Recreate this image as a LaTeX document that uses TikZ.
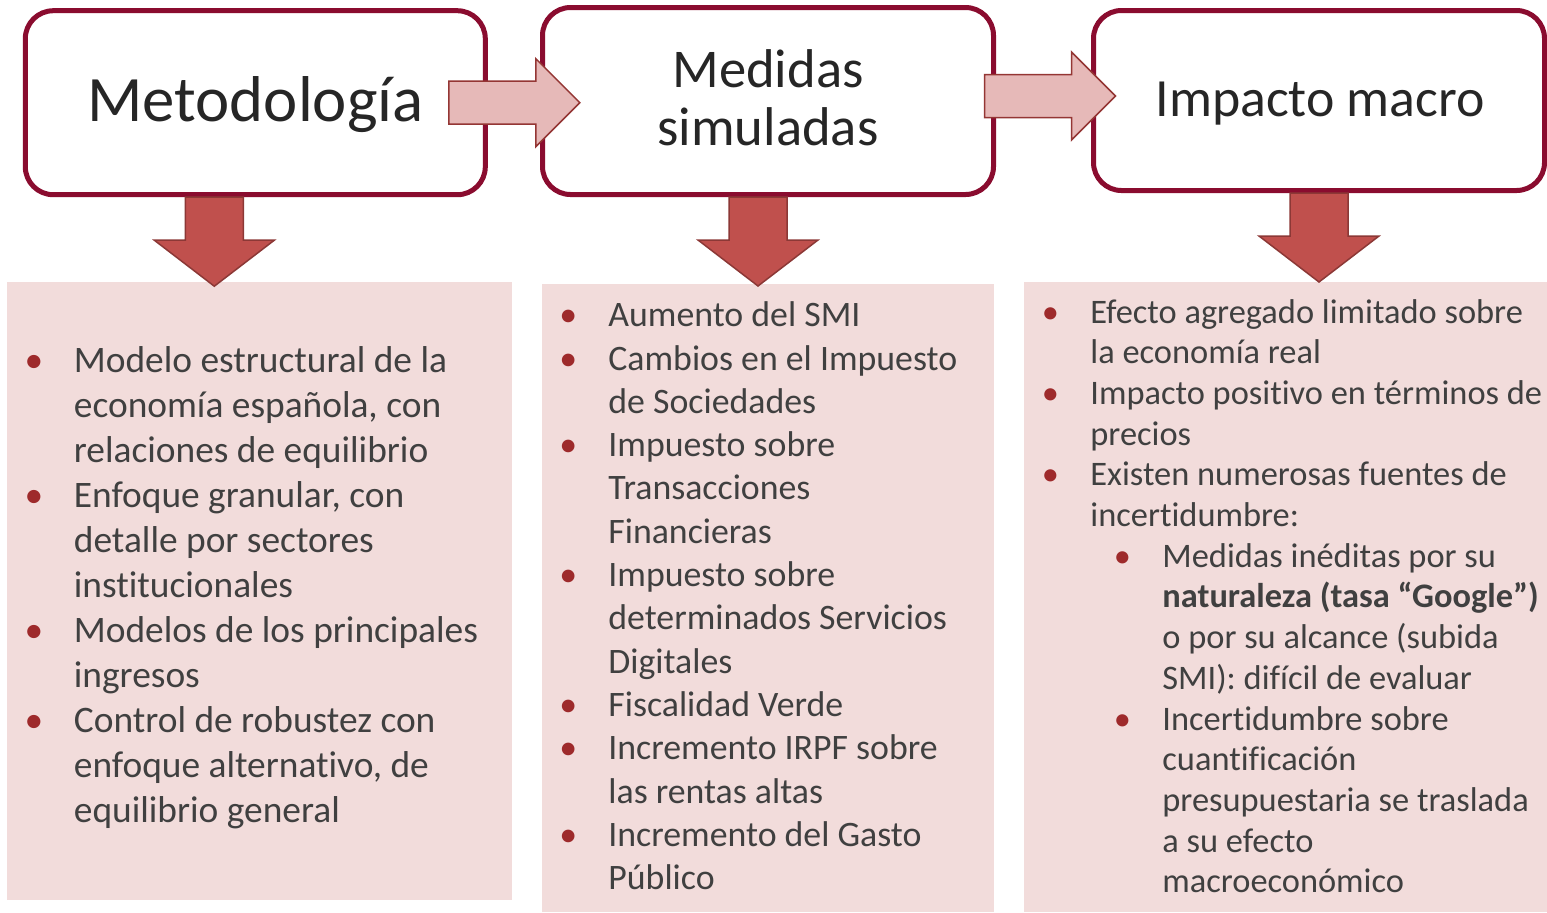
\documentclass[tikz,border=0pt]{standalone}
\usepackage{fontspec}
\setmainfont{Carlito}[Ligatures={NoCommon}]
\usepackage{xcolor}
\usetikzlibrary{calc,
	positioning}

\definecolor{boxred}{HTML}{8A0C2F}
\definecolor{pinkfill}{HTML}{E6B9B8}
\definecolor{pinkline}{HTML}{943634}
\definecolor{arrowfill}{HTML}{C0504D}
\definecolor{arrowline}{HTML}{8C3836}
\definecolor{panelpink}{HTML}{F2DCDB}
\definecolor{bulred}{HTML}{9E2A2B}
\definecolor{titlegray}{HTML}{262626}
\definecolor{textgray}{HTML}{404040}

\newlength\bw
\setlength\bw{20pt}
\newcommand\bul{\makebox[\bw][l]{\makebox[0pt]{\textcolor{bulred}{\textbullet}}}}
\newcommand\ind{\hspace*{\bw}}
\newcommand\subbul{\hspace*{36pt}\bul}
\newcommand\subind{\hspace*{56pt}}

\tikzset{
	titlebox/.style={draw=boxred, line width=2.5pt, rounded corners=14pt, fill=white, inner sep=0pt},
	titletxt/.style={text=titlegray, inner sep=0pt, anchor=base},
	listtxt/.style={text=textgray, inner sep=0pt, anchor=base west},
	panel/.style={fill=panelpink},
	downarr/.pic={
		\filldraw[fill=arrowfill, draw=arrowline, line width=0.75pt] (-29,0) -- (29,0) -- (29,43) -- (60,43) -- (0,89) -- (-60,43) -- (-29,43) -- cycle;
	},
	rightarr/.pic={
		\filldraw[fill=pinkfill, draw=pinkline, line width=0.75pt] (0,-21.5) -- (87,-21.5) -- (87,-44) -- (131,0) -- (87,44) -- (87,21.5) -- (0,21.5) -- cycle;
	}
}

\begin{document}
\begin{tikzpicture}[x=0.5pt, y=-0.5pt]
	\useasboundingbox (0,0) rectangle (1547,912);
	% panels below
	\fill[panel] (7,282) rectangle (512,900);
	\fill[panel] (542,284) rectangle (994,912);
	\fill[panel] (1024,282) rectangle (1547,912);

	% boxes
	\node[titlebox, minimum width=230pt, minimum height=92pt] (metod) at (255.3,102.7) {};
	\node[titlebox, minimum width=225.5pt, minimum height=93.5pt] (medid) at (768,101) {};
	\node[titlebox, minimum width=225.5pt, minimum height=90pt] (impac) at (1319,100.5) {};

	% arrows
	\pic at ($(metod.south)+(-41,0)$) {downarr};
	\pic at ($(medid.south)+(-10,0)$) {downarr};
	\pic at ($(impac.south)+(0,0)$) {downarr};
	\pic at ($(metod.east)+(-39,0)$) {rightarr};
	\pic at ($(medid.east)+(-11.5,-5)$) {rightarr};

	% titles
	\node[titletxt, font=\fontsize{32.4}{36}\selectfont] (metodT) at (255.5,121) {Metodología};
	\node[titletxt, font=\fontsize{27.3}{29}\selectfont] (medidT) at (768,87) {\begin{tabular}[t]{@{}c@{}}Medidas\\simuladas\end{tabular}};
	\node[titletxt, font=\fontsize{26.9}{30}\selectfont] (impacT) at (1320,116) {Impacto macro};

	% lists
	\node[listtxt, font=\fontsize{18.7}{22.5}\selectfont] (metodL) at (33.5,372) {\begin{tabular}[t]{@{}l@{}}
		\bul Modelo estructural de la\\
		\ind economía española, con\\
		\ind relaciones de equilibrio\\
		\bul Enfoque granular, con\\
		\ind detalle por sectores\\
		\ind institucionales\\
		\bul Modelos de los principales\\
		\ind ingresos\\
		\bul Control de robustez con\\
		\ind enfoque alternativo, de\\
		\ind equilibrio general
	\end{tabular}};
	\node[listtxt, font=\fontsize{17.9}{21.65}\selectfont] (medidL) at (568,326.7) {\begin{tabular}[t]{@{}l@{}}
		\bul Aumento del SMI\\
		\bul Cambios en el Impuesto\\
		\ind de Sociedades\\
		\bul Impuesto sobre\\
		\ind Transacciones\\
		\ind Financieras\\
		\bul Impuesto sobre\\
		\ind determinados Servicios\\
		\ind Digitales\\
		\bul Fiscalidad Verde\\
		\bul Incremento IRPF sobre\\
		\ind las rentas altas\\
		\bul Incremento del Gasto\\
		\ind Público
	\end{tabular}};
	\node[listtxt, font=\fontsize{17.2}{20.35}\selectfont] (impacL) at (1050,323) {\begin{tabular}[t]{@{}l@{}}
		\bul Efecto agregado limitado sobre\\
		\ind la economía real\\
		\bul Impacto positivo en términos de\\
		\ind precios\\
		\bul Existen numerosas fuentes de\\
		\ind incertidumbre:\\
		\subbul Medidas inéditas por su\\
		\subind \textbf{naturaleza (tasa “Google”)}\\
		\subind o por su alcance (subida\\
		\subind SMI): difícil de evaluar\\
		\subbul Incertidumbre sobre\\
		\subind cuantificación\\
		\subind presupuestaria se traslada\\
		\subind a su efecto\\
		\subind macroeconómico
	\end{tabular}};
\end{tikzpicture}
\end{document}
